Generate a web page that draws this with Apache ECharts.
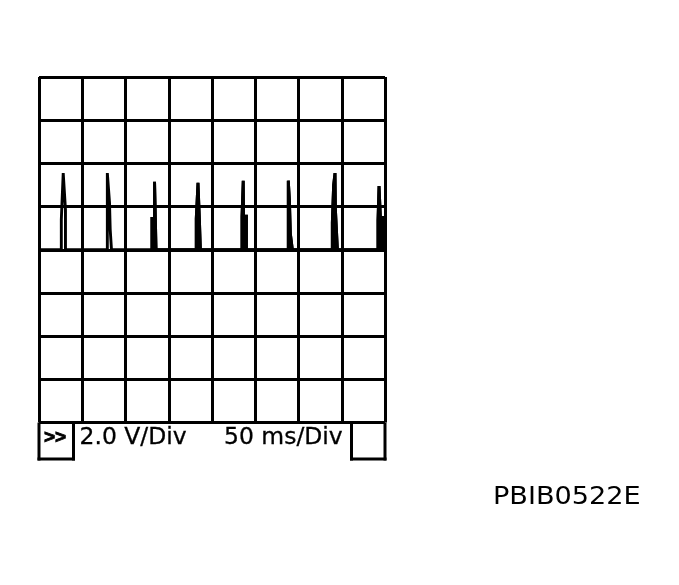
<!DOCTYPE html>
<html>
<head>
<meta charset="utf-8">
<script src="https://cdn.jsdelivr.net/npm/echarts@6/dist/echarts.min.js"></script>
<style>
html,body{margin:0;padding:0;background:#fff;}
#chart{width:679px;height:585px;}
</style>
</head>
<body>
<div id="chart"></div>
<script>
// Time (ms) / voltage (V) samples
const pulse1 = [[25.8,0],[25.8,1.4],[27.6,1.4],[28.0,3.55],[28.7,3.55],[30.6,1.85],[30.6,0]];
const pulse2 = [[79.0,0],[79.0,3.55],[79.8,3.55],[81.5,2.2],[82.3,0.95],[83.8,0.95],[83.8,0]];
const pulse3 = [[130.6,0],[130.6,1.45],[133.6,1.45],[133.6,3.15],[135.3,3.15],[135.3,0]];
const pulse4 = [[181.8,0],[181.8,1.45],[183.8,1.45],[183.8,3.1],[185.4,3.1],[185.4,1.45],[186.6,1.45],[186.6,0]];
const pulse5 = [[234.7,0],[234.7,1.55],[236.1,1.55],[236.1,3.2],[236.5,3.2],[236.5,1.55],[239.8,1.55],[239.8,0]];
const pulse6 = [[288.2,0],[288.2,3.2],[289.5,3.2],[289.5,2.3],[290.6,2.3],[290.6,0.75],[292.9,0.75],[292.9,0]];
const pulse7 = [[339.1,0],[339.1,1.25],[340.6,1.25],[340.6,3.0],[342.2,3.0],[342.2,3.55],[342.7,3.55],[342.7,1.85],[345.0,1.85],[345.0,0]];
const pulse8 = [[391.9,0],[391.9,1.35],[393.1,1.35],[393.1,2.95],[394.7,2.95],[394.7,1.5],[398.8,1.5],[398.8,0]];

const timeRange = [0, 400];   // 8 div x 50 ms
const timeStep = 50;
const voltRange = [-8, 8];    // 8 div x 2.0 V
const voltStep = 2;

const voltLabel = '2.0 V/Div';
const timeLabel = '50 ms/Div';
const arrowLabel = '>>';
const figureCode = 'PBIB0522E';

const hollowPulses = [pulse1, pulse2];
const solidPulses = [pulse3, pulse4, pulse5, pulse6, pulse7, pulse8];

const traceData = [[timeRange[0],0]]
  .concat(...hollowPulses, ...solidPulses)
  .concat([[timeRange[1],0]]);
const fillData = [].concat(...solidPulses);

const chart = echarts.init(document.getElementById('chart'), null, {renderer:'canvas'});

const L = 39, R = 385, T = 77, B = 422.6, BB = 459;
const lw = 3;
const traceW = 2.9;
const lineStyle = {stroke:'#000', lineWidth: lw};

chart.setOption({
  animation: false,
  backgroundColor: '#fff',
  grid: {left: L, right: 679 - R, top: T, bottom: 585 - B, containLabel: false},
  xAxis: {
    type: 'value', min: timeRange[0], max: timeRange[1], interval: timeStep,
    axisLine: {show: false}, axisTick: {show: false}, axisLabel: {show: false},
    splitLine: {show: true, lineStyle: {color: '#000', width: lw}}
  },
  yAxis: {
    type: 'value', min: voltRange[0], max: voltRange[1], interval: voltStep,
    axisLine: {show: false}, axisTick: {show: false}, axisLabel: {show: false},
    splitLine: {show: true, lineStyle: {color: '#000', width: lw}}
  },
  series: [
    {
      type: 'line', data: fillData, showSymbol: false, silent: true,
      lineStyle: {color: '#000', width: traceW, join: 'miter', cap: 'butt'},
      areaStyle: {color: '#000', opacity: 1, origin: 0},
      z: 3
    },
    {
      type: 'line', data: traceData, showSymbol: false, silent: true,
      lineStyle: {color: '#000', width: traceW, join: 'miter', cap: 'butt'}, z: 4
    }
  ],
  graphic: [
    {type:'line', shape:{x1:L, y1:B, x2:L, y2:BB+1.5}, style:lineStyle},
    {type:'line', shape:{x1:R, y1:B, x2:R, y2:BB+1.5}, style:lineStyle},
    {type:'line', shape:{x1:73.5, y1:B, x2:73.5, y2:BB+1.5}, style:lineStyle},
    {type:'line', shape:{x1:L-1.5, y1:BB, x2:75, y2:BB}, style:lineStyle},
    {type:'line', shape:{x1:351.5, y1:B, x2:351.5, y2:BB+1.5}, style:lineStyle},
    {type:'line', shape:{x1:350, y1:BB, x2:R+1.5, y2:BB}, style:lineStyle},
    {type:'text', x:44, y:437.5, style:{text:arrowLabel, font:'bold 19px "Liberation Sans"', fill:'#000', stroke:'#000', lineWidth:0.8, textAlign:'left', textVerticalAlign:'middle'}},
    {type:'text', x:79.5, y:438.5, scaleX:1.02, style:{text:voltLabel, font:'23px "DejaVu Sans"', fill:'#000', stroke:'#000', lineWidth:0.3, textAlign:'left', textVerticalAlign:'middle'}},
    {type:'text', x:224, y:438.5, scaleX:1.02, style:{text:timeLabel, font:'23px "DejaVu Sans"', fill:'#000', stroke:'#000', lineWidth:0.3, textAlign:'left', textVerticalAlign:'middle'}},
    {type:'text', x:493, y:498, scaleX:1.13, style:{text:figureCode, font:'24px "DejaVu Sans"', fill:'#000', textAlign:'left', textVerticalAlign:'middle'}}
  ]
});
</script>
</body>
</html>
